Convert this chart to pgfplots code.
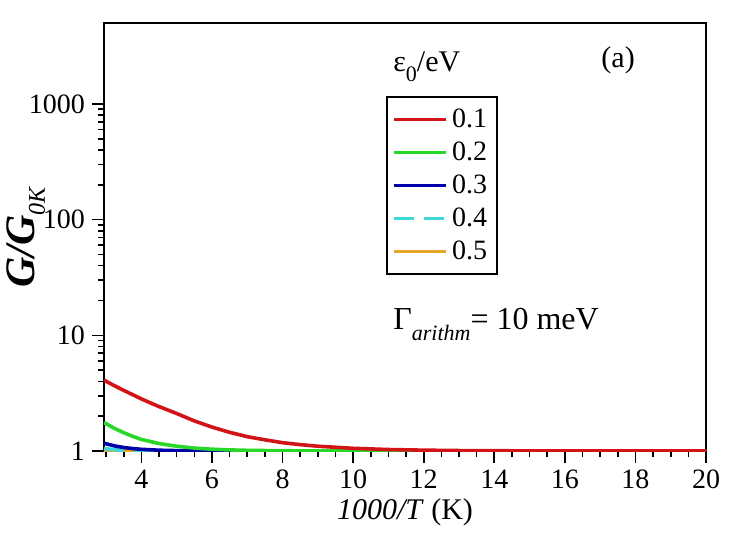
\documentclass[border=0pt]{standalone}
\usepackage{fontspec}
\setmainfont{Liberation Serif}
\usepackage{pgfplots}
\pgfplotsset{compat=1.18}
\definecolor{cred}{RGB}{210,20,25}
\definecolor{cgreen}{RGB}{40,215,40}
\definecolor{cblue}{RGB}{0,0,170}
\definecolor{ccyan}{RGB}{60,215,215}
\definecolor{corange}{RGB}{230,165,40}
\begin{document}
\begin{tikzpicture}
\begin{axis}[
  scale only axis, width=301pt, height=214pt,
  ymode=log, xmin=2.94, xmax=20, ymin=1, ymax=5000,
  xtick={4,6,...,20}, minor xtick={3,3.5,...,20},
  ytick={1,10,100,1000},
  log ticks with fixed point,
  /pgf/number format/1000 sep={},
  /pgf/number format/assume math mode=true,
  tick pos=left, tick align=outside,
  major tick length=6pt, minor tick length=3pt,
  every tick/.style={black, line width=0.8pt},
  axis line style={line width=1.2pt},
  ticklabel style={font=\fontsize{14}{16}\selectfont},
  every axis x label/.style={at={(rel axis cs:0.5,0)}, anchor=base, yshift=-34pt},
  every axis y label/.style={at={(rel axis cs:0,0.5)}, xshift=-39pt, rotate=90, anchor=center},
  xlabel={\fontsize{15}{17}\selectfont\textit{1000/T} (K)},
  ylabel={\fontsize{21}{23}\selectfont\textbf{\textit{G/G}}\raisebox{-5pt}{\fontsize{12}{12}\selectfont\textit{0K}}},
  legend cell align=left,
  reverse legend,
  legend image code/.code={\draw[#1] (0pt,0pt) -- (26pt,0pt);},
  legend style={at={(rel axis cs:0.468,0.829)}, anchor=north west,
    draw=black, line width=0.9pt, font=\fontsize{14}{16}\selectfont,
    inner xsep=3pt, inner ysep=3pt, row sep=0pt,
    nodes={inner sep=2pt, text height=10pt, text depth=2.5pt}},
]
\addplot[corange, line width=1.8pt] coordinates {(2.94,1.015) (3.5,1.004) (4,1.001) (5,1.0002) (20,1.0)};
\addlegendentry{0.5}
\addplot[ccyan, line width=1.8pt, dash pattern=on 10pt off 5pt] coordinates {(2.94,1.05) (3.25,1.027) (3.5,1.016) (4.0,1.006) (4.5,1.002) (5.0,1.001) (6,1.0002) (20,1.0)};
\addlegendentry{0.4}
\addplot[cblue, line width=1.8pt] coordinates {(2.94,1.165) (3.0,1.155) (3.25,1.105) (3.5,1.072) (3.75,1.05) (4.0,1.034) (4.5,1.016) (5.0,1.0075) (6.0,1.0017) (7,1.0004) (8,1.0001) (20,1.0)};
\addlegendentry{0.3}
\addplot[cgreen, line width=1.8pt] coordinates {(2.94,1.76) (3.0,1.72) (3.25,1.56) (3.5,1.44) (3.75,1.34) (4.0,1.26) (4.5,1.16) (5.0,1.10) (5.5,1.06) (6.0,1.036) (6.5,1.022) (7,1.013) (8,1.005) (9,1.002) (10,1.001) (12,1.0002) (20,1.0)};
\addlegendentry{0.2}
\addplot[cred, line width=1.8pt] coordinates {(2.94,4.10) (3.0,4.00) (3.25,3.65) (3.5,3.34) (3.75,3.07) (4.0,2.82) (4.25,2.61) (4.5,2.42) (4.75,2.26) (5.0,2.11) (5.5,1.82) (6.0,1.61) (6.5,1.45) (7.0,1.33) (7.5,1.25) (8.0,1.18) (8.5,1.135) (9.0,1.10) (10,1.055) (11,1.03) (12,1.017) (13,1.009) (14,1.005) (15,1.003) (16,1.0015) (18,1.0005) (20,1.0002)};
\addlegendentry{0.1}
\node[anchor=base west, inner sep=0pt, font=\fontsize{15}{17}\selectfont] at (rel axis cs:0.480,0.886) {ε\raisebox{-5pt}{\fontsize{11}{11}\selectfont 0}/eV};
\node[anchor=base, inner sep=0pt, font=\fontsize{15}{17}\selectfont] at (rel axis cs:0.854,0.895) {(a)};
\node[anchor=base west, inner sep=0pt, font=\fontsize{16}{18}\selectfont] at (rel axis cs:0.480,0.285) {Γ\raisebox{-5.5pt}{\fontsize{11}{11}\selectfont\itshape arithm}= 10 meV};
\end{axis}
\pgfresetboundingbox
\useasboundingbox (-52pt,-46pt) rectangle (318pt,225.5pt);
\end{tikzpicture}
\end{document}
